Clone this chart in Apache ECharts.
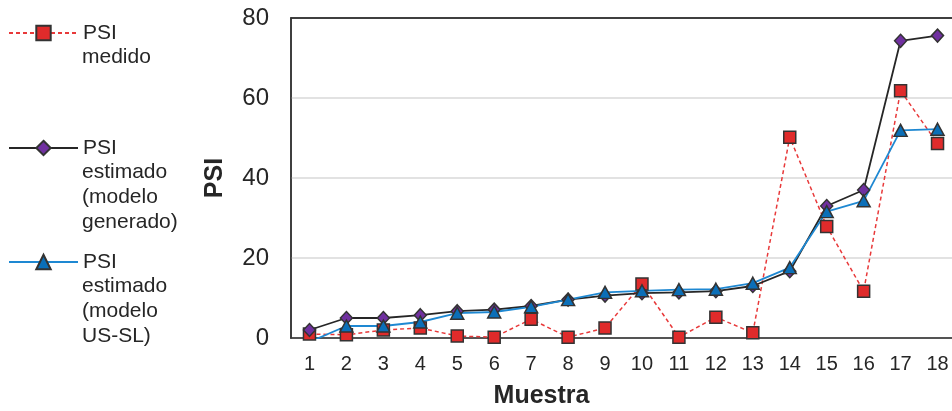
<!DOCTYPE html>
<html><head><meta charset="utf-8">
<script src="https://cdn.jsdelivr.net/npm/echarts@6/dist/echarts.min.js"></script>
<style>html,body{margin:0;padding:0;background:#fff}#c{width:952px;height:411px}</style>
</head><body><div id="c"></div>
<script>
const categories = ['1','2','3','4','5','6','7','8','9','10','11','12','13','14','15','16','17','18'];
const psiMedido   = [1, 0.8, 2, 2.5, 0.5, 0.2, 4.7, 0.2, 2.5, 13.5, 0.2, 5.2, 1.3, 50.2, 27.9, 11.7, 61.8, 48.6];
const psiGenerado = [2, 5, 5, 5.7, 6.7, 7.1, 8, 9.6, 10.6, 11.2, 11.4, 11.7, 13, 16.7, 33, 37, 74.3, 75.6];
const psiUSSL     = [-1, 3, 3, 4, 6.2, 6.5, 7.8, 9.6, 11.4, 11.8, 12.1, 12.2, 13.7, 17.6, 31.6, 34.3, 51.9, 52.2];
const yMin = 0, yMax = 80, yStep = 20;
const names = ['PSI medido', 'PSI estimado (modelo generado)', 'PSI estimado (modelo US-SL)'];
const legendLines = [['PSI','medido'], ['PSI','estimado','(modelo','generado)'], ['PSI','estimado','(modelo','US-SL)']];

const FONT = 'Liberation Sans, Arial, sans-serif';
const legendCenters = [33, 148, 262];
const LH = 24.6;
const legendLeft = 8, legendW = 69, textX = legendLeft + legendW + 5;

const legends = names.map((n, i) => ({
  data: [n], orient: 'vertical', left: legendLeft, top: legendCenters[i] - 12, padding: 0,
  itemWidth: legendW, itemHeight: 18,
  formatter: () => legendLines[i][0],
  textStyle: { fontFamily: FONT, fontSize: 21, color: '#262626', lineHeight: 24 }
}));

const graphics = [];
legendLines.forEach((lines, i) => {
  lines.slice(1).forEach((t, j) => {
    graphics.push({
      type: 'text', left: textX, top: legendCenters[i] + (j + 1) * LH - 12,
      style: { text: t, fontFamily: FONT, fontSize: 21, fill: '#262626', lineHeight: 24 }
    });
  });
});

const markerBorder = { borderColor: '#333', borderWidth: 1.5 };
const chart = echarts.init(document.getElementById('c'));
chart.setOption({
  animation: false,
  backgroundColor: '#fff',
  textStyle: { fontFamily: FONT },
  legend: legends,
  graphic: graphics,
  grid: { left: 291, right: -4, top: 18, bottom: 73, show: true, borderColor: '#333', borderWidth: 1.5, backgroundColor: 'transparent', outerBoundsMode: 'none', containLabel: false },
  xAxis: [{
    type: 'category', data: categories, boundaryGap: true,
    axisLine: { lineStyle: { color: '#333', width: 1.5 } },
    axisTick: { show: false },
    axisLabel: { fontFamily: FONT, fontSize: 20, color: '#262626', margin: 16, interval: 0 },
    name: 'Muestra', nameLocation: 'middle', nameGap: 46,
    nameTextStyle: { fontFamily: FONT, fontSize: 25, fontWeight: 'bold', color: '#262626', padding: [0, 164, 0, 0] }
  }, {
    type: 'category', data: categories, position: 'top', boundaryGap: true,
    axisLine: { show: true, lineStyle: { color: '#333', width: 1.5 } },
    axisTick: { show: false }, axisLabel: { show: false }, splitLine: { show: false }
  }],
  yAxis: {
    type: 'value', min: yMin, max: yMax, interval: yStep,
    axisLine: { show: true, lineStyle: { color: '#333', width: 1.5 } },
    axisTick: { show: false },
    splitLine: { showMaxLine: false, lineStyle: { color: '#D9D9D9', width: 1.5 } },
    axisLabel: { fontFamily: FONT, fontSize: 24, color: '#262626', margin: 22 },
    name: 'PSI', nameLocation: 'middle', nameGap: 63, nameRotate: 90,
    nameTextStyle: { fontFamily: FONT, fontSize: 25, fontWeight: 'bold', color: '#262626' }
  },
  series: [
    { name: names[0], type: 'line', data: psiMedido, symbol: 'rect', symbolSize: 12, clip: true,
      lineStyle: { color: '#E8393A', width: 1.5, type: [4, 3] },
      itemStyle: Object.assign({ color: '#E02B2B' }, markerBorder) },
    { name: names[1], type: 'line', data: psiGenerado, symbol: 'diamond', symbolSize: [12, 13], clip: true,
      lineStyle: { color: '#262626', width: 1.8 },
      itemStyle: Object.assign({ color: '#7030A0' }, markerBorder) },
    { name: names[2], type: 'line', data: psiUSSL, symbol: 'triangle', symbolSize: [13, 12], clip: true,
      lineStyle: { color: '#1E88D2', width: 1.8 },
      itemStyle: Object.assign({ color: '#0B6FB8' }, markerBorder) }
  ]
});
</script></body></html>
